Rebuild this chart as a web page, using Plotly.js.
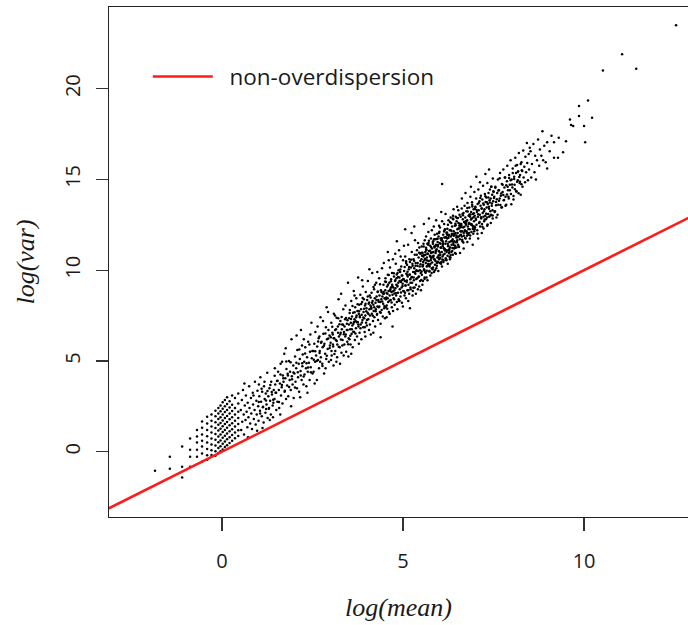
<!DOCTYPE html>
<html>
<head>
<meta charset="utf-8">
<script src="https://cdn.plot.ly/plotly-3.0.1.min.js"></script>
<style>html,body{margin:0;padding:0;background:#fff;}#chart{width:688px;height:625px;}</style>
</head>
<body>
<div id="chart"></div>
<script>
// ---- Data: log(mean) / log(var) per gene, grouped by log(mean) range ----
const meanA = [-1.85,-1.44,-1.44,-1.10,-1.10,-1.10,-0.88,-0.88,-0.88,-0.88,-0.69,-0.69,-0.69,-0.69,-0.69,-0.55,-0.55,-0.55,-0.55,-0.55,-0.55,-0.55,-0.41,-0.41,-0.41,-0.41,-0.41,-0.41,-0.41,-0.41,-0.29,-0.29,-0.29,-0.29,-0.29,-0.29,-0.29,-0.29];
const varA  = [-1.05,-0.28,-0.94,0.28,-0.83,-1.43,0.72,0.10,-0.28,-0.83,1.20,0.83,0.50,0.10,-0.28,1.66,1.32,0.94,0.60,0.28,-0.10,-0.55,1.93,1.55,1.20,0.85,0.50,0.15,-0.20,-0.45,2.05,1.70,1.38,1.05,0.72,0.40,0.08,-0.18];

const meanB = [-0.18,-0.18,-0.18,-0.18,-0.18,-0.18,-0.18,-0.18,-0.18,
  -0.10,-0.10,-0.10,-0.10,-0.10,-0.10,-0.10,-0.10,-0.10,
  -0.04,-0.04,-0.04,-0.04,-0.04,-0.04,-0.04,-0.04,-0.04,
  0.02,0.02,0.02,0.02,0.02,0.02,0.02,0.02,0.02,
  0.08,0.08,0.08,0.08,0.08,0.08,0.08,0.08,0.08,
  0.14,0.14,0.14,0.14,0.14,0.14,0.14,0.14,0.14,
  0.21,0.21,0.21,0.21,0.21,0.21,0.21,0.21,
  0.28,0.28,0.28,0.28,0.28,0.28,0.28,0.28,
  0.36,0.36,0.36,0.36,0.36,0.36,0.36,
  0.45,0.45,0.45,0.45,0.45,0.45,0.45];
const varB = [2.25,1.95,1.62,1.30,0.98,0.66,0.34,0.02,-0.22,
  2.40,2.10,1.80,1.48,1.16,0.84,0.52,0.20,-0.08,
  2.55,2.22,1.90,1.58,1.26,0.94,0.62,0.30,0.02,
  2.72,2.36,2.05,1.72,1.40,1.08,0.76,0.44,0.12,
  2.85,2.50,2.18,1.85,1.52,1.20,0.88,0.56,0.25,
  3.00,2.62,2.30,1.97,1.64,1.32,1.00,0.68,0.36,
  2.78,2.44,2.10,1.78,1.45,1.12,0.80,0.48,
  3.10,2.58,2.24,1.90,1.57,1.24,0.92,0.60,
  2.95,2.40,2.05,1.70,1.38,1.05,0.74,
  3.20,2.65,2.20,1.85,1.52,1.18,0.86];

const meanC = [0.52,0.53,0.55,0.56,0.58,0.60,0.61,0.63,0.65,0.66,0.68,0.70,0.71,0.73,0.75,0.76,0.78,0.80,0.81,0.83,0.85,0.86,0.88,0.90,0.91,0.93,0.95,0.96,0.98,1.00,1.01,1.03,1.05,1.06,1.08,1.10,1.11,1.13,1.15,1.16,1.18,1.20,1.21,1.23,1.25,1.26,1.28,1.30,1.31,1.33,1.35,1.36,1.38,1.40,1.41,1.43,1.45,1.46,1.48,1.50,0.62,0.72,0.87,0.97,1.02,1.12,1.22,1.32,1.42,1.47];
const varC  = [2.30,1.20,2.85,1.65,3.40,2.05,0.95,2.55,1.75,3.10,2.20,1.35,2.70,1.90,3.60,2.40,1.55,2.95,2.10,1.25,3.25,2.60,1.80,2.30,3.85,1.50,2.80,2.05,3.35,2.50,1.70,3.05,2.25,4.10,2.75,1.95,3.30,2.45,1.60,3.60,2.90,2.15,3.20,2.60,4.35,1.85,3.05,2.40,3.50,2.80,2.05,3.85,3.15,2.55,1.90,3.40,2.90,4.60,3.25,2.30,3.75,0.80,3.10,1.15,3.70,1.30,2.35,1.75,2.70,3.70];

const meanD = [1.52,1.53,1.55,1.57,1.58,1.60,1.62,1.63,1.65,1.67,1.68,1.70,1.72,1.73,1.75,1.77,1.78,1.80,1.82,1.83,1.85,1.87,1.88,1.90,1.92,1.93,1.95,1.97,1.98,2.00,2.02,2.03,2.05,2.07,2.08,2.10,2.12,2.13,2.15,2.17,2.18,2.20,2.22,2.23,2.25,2.27,2.28,2.30,2.32,2.33,2.35,2.37,2.38,2.40,2.42,2.43,2.45,2.47,2.48,2.50,1.61,1.76,1.91,2.06,2.16,2.26,2.36,2.44,1.66,2.21];
const varD  = [3.90,2.75,4.40,3.40,2.40,3.75,4.85,3.10,3.55,2.65,4.20,3.85,5.40,3.30,4.05,2.90,4.55,3.65,4.20,3.05,5.00,3.95,4.40,3.40,6.20,4.15,3.70,4.75,2.95,4.30,5.25,3.85,4.60,3.50,5.60,4.10,4.85,3.30,5.10,4.45,6.70,3.95,4.70,5.35,3.70,4.95,4.25,5.75,4.60,3.60,5.20,4.40,6.05,4.90,3.95,5.50,4.65,7.10,5.15,4.30,2.05,5.70,2.50,6.40,3.00,6.20,3.25,6.45,4.95,5.85];

const meanE = [2.52,2.53,2.55,2.57,2.58,2.60,2.62,2.63,2.65,2.67,2.68,2.70,2.72,2.73,2.75,2.77,2.78,2.80,2.82,2.83,2.85,2.87,2.88,2.90,2.92,2.93,2.95,2.97,2.98,3.00,3.02,3.03,3.05,3.07,3.08,3.10,3.12,3.13,3.15,3.17,3.18,3.20,3.22,3.23,3.25,3.27,3.28,3.30,3.32,3.33,3.35,3.37,3.38,3.40,3.42,3.43,3.45,3.47,3.48,3.50,2.56,2.64,2.71,2.79,2.86,2.94,3.01,3.09,3.16,3.21,3.26,3.31,3.36,3.41,3.46,3.49,2.69,2.89,3.06,3.29];
const varE  = [5.55,4.40,5.95,4.95,6.60,5.30,3.95,5.80,5.05,6.25,4.60,5.55,7.40,5.20,6.05,4.85,5.75,6.50,4.30,5.95,5.40,6.85,5.10,6.20,5.65,7.70,4.95,6.40,5.85,6.00,7.10,5.30,6.55,5.80,4.75,6.25,7.50,5.55,6.75,6.10,5.20,6.90,8.40,6.35,5.75,7.20,6.55,5.45,7.00,6.15,7.85,6.60,5.90,7.30,6.45,5.50,7.05,6.70,9.30,6.25,3.75,6.90,4.95,7.20,4.60,6.70,5.05,7.60,4.95,7.35,4.85,6.75,5.30,8.05,6.05,5.25,6.35,7.95,6.45,8.70];

const meanF = [3.51,3.52,3.53,3.54,3.55,3.56,3.57,3.58,3.59,3.60,3.61,3.62,3.63,3.64,3.65,3.66,3.67,3.68,3.69,3.70,3.71,3.72,3.73,3.74,3.75,3.76,3.77,3.78,3.79,3.80,3.81,3.82,3.83,3.84,3.85,3.86,3.87,3.88,3.89,3.90,3.91,3.92,3.93,3.94,3.95,3.96,3.97,3.98,3.99,4.00,4.01,4.02,4.03,4.04,4.05,4.06,4.07,4.08,4.09,4.10,4.11,4.12,4.13,4.14,4.15,4.16,4.17,4.18,4.19,4.20,4.21,4.22,4.23,4.24,4.25,4.26,4.27,4.28,4.29,4.30,4.31,4.32,4.33,4.34,4.35,4.36,4.37,4.38,4.39,4.40,4.41,4.42,4.43,4.44,4.45,4.46,4.47,4.48,4.49,4.50,3.57,3.66,3.78,3.87,3.96,4.07,4.18,4.29,4.38,4.47];
const varF  = [7.35,6.20,7.80,6.75,5.90,7.10,8.30,6.50,7.45,6.95,5.75,7.65,7.05,8.85,6.60,7.30,6.15,7.95,7.20,6.80,8.45,7.50,6.35,7.75,7.15,9.60,6.90,7.60,8.10,6.55,7.40,8.65,7.00,7.85,6.20,7.55,8.25,7.25,9.10,6.85,7.70,8.40,7.35,6.60,8.05,7.50,8.80,7.10,7.90,6.95,8.35,7.65,9.40,7.30,8.15,6.70,7.85,8.60,7.50,8.05,6.45,7.95,8.75,7.60,9.85,8.30,7.20,8.10,7.75,8.95,7.40,8.45,6.90,8.20,7.85,9.30,8.55,7.55,8.00,8.80,7.25,8.35,7.95,9.55,8.60,7.70,8.25,7.05,8.90,8.40,7.80,10.10,8.55,7.45,8.15,9.20,8.70,7.90,8.45,7.35,5.40,8.60,5.95,9.45,6.35,10.05,6.55,9.90,6.30,10.40];

const meanG = [4.51,4.52,4.53,4.54,4.55,4.56,4.57,4.58,4.59,4.60,4.61,4.62,4.63,4.64,4.65,4.66,4.67,4.68,4.69,4.70,4.71,4.72,4.73,4.74,4.75,4.76,4.77,4.78,4.79,4.80,4.81,4.82,4.83,4.84,4.85,4.86,4.87,4.88,4.89,4.90,4.91,4.92,4.93,4.94,4.95,4.96,4.97,4.98,4.99,5.00,5.01,5.02,5.03,5.04,5.05,5.06,5.07,5.08,5.09,5.10,5.11,5.12,5.13,5.14,5.15,5.16,5.17,5.18,5.19,5.20,5.21,5.22,5.23,5.24,5.25,5.26,5.27,5.28,5.29,5.30,5.31,5.32,5.33,5.34,5.35,5.36,5.37,5.38,5.39,5.40,5.41,5.42,5.43,5.44,5.45,5.46,5.47,5.48,5.49,5.50,
  4.515,4.545,4.575,4.605,4.635,4.665,4.695,4.725,4.755,4.785,4.815,4.845,4.875,4.905,4.935,4.965,4.995,5.025,5.055,5.085,5.115,5.145,5.175,5.205,5.235,5.265,5.295,5.325,5.355,5.385,5.415,5.445,5.475,5.495,4.58,4.83,5.06,5.31,4.71,5.19];
const varG  = [8.90,7.95,9.35,8.50,8.05,9.10,8.70,9.75,8.25,8.85,7.70,9.30,8.60,10.15,8.95,8.35,9.50,8.80,7.95,9.20,8.65,10.60,9.05,8.45,9.65,8.90,8.10,9.40,9.00,10.35,8.60,9.55,8.25,9.15,9.85,8.75,9.30,8.40,11.10,9.60,8.95,9.90,8.55,9.35,10.20,9.05,8.20,9.70,9.25,10.55,8.85,9.50,9.95,8.60,9.40,10.75,9.15,8.45,9.80,9.35,10.30,8.90,9.65,11.40,9.20,10.05,8.70,9.75,10.45,9.50,8.95,10.15,9.60,11.00,9.30,10.35,8.85,9.90,10.60,9.45,10.10,9.05,11.65,9.80,10.40,9.20,10.00,10.85,9.55,10.25,8.95,9.95,10.70,9.65,11.25,10.20,9.40,10.50,9.85,10.95,
  9.55,7.40,8.45,10.55,7.60,9.05,9.85,7.75,8.40,10.90,9.20,7.85,10.00,8.30,10.75,9.45,8.00,11.35,8.75,10.40,9.75,8.30,10.60,9.05,12.05,8.60,9.60,10.85,8.70,9.95,11.50,9.10,10.90,8.90,11.00,11.60,12.25,12.40,6.90,7.90];

const meanH = [5.51,5.52,5.53,5.54,5.55,5.56,5.57,5.58,5.59,5.60,5.61,5.62,5.63,5.64,5.65,5.66,5.67,5.68,5.69,5.70,5.71,5.72,5.73,5.74,5.75,5.76,5.77,5.78,5.79,5.80,5.81,5.82,5.83,5.84,5.85,5.86,5.87,5.88,5.89,5.90,5.91,5.92,5.93,5.94,5.95,5.96,5.97,5.98,5.99,6.00,6.01,6.02,6.03,6.04,6.05,6.06,6.07,6.08,6.09,6.10,6.11,6.12,6.13,6.14,6.15,6.16,6.17,6.18,6.19,6.20,6.21,6.22,6.23,6.24,6.25,6.26,6.27,6.28,6.29,6.30,6.31,6.32,6.33,6.34,6.35,6.36,6.37,6.38,6.39,6.40,6.41,6.42,6.43,6.44,6.45,6.46,6.47,6.48,6.49,6.50,
  5.515,5.535,5.555,5.575,5.595,5.615,5.635,5.655,5.675,5.695,5.715,5.735,5.755,5.775,5.795,5.815,5.835,5.855,5.875,5.895,5.915,5.935,5.955,5.975,5.995,6.015,6.035,6.055,6.075,6.095,6.115,6.135,6.155,6.175,6.195,6.215,6.235,6.255,6.275,6.295,6.315,6.335,6.355,6.375,6.395,6.415,6.435,6.455,6.475,6.495,6.08];
const varH  = [10.60,9.75,10.95,10.20,9.40,10.75,11.30,10.05,10.55,11.65,9.90,10.85,10.40,11.15,9.60,10.70,11.45,10.25,10.90,12.10,10.50,11.05,9.95,10.80,11.35,10.35,11.75,10.65,9.85,11.20,10.75,11.55,10.15,11.00,12.40,10.60,11.25,10.30,11.70,10.95,11.40,10.10,11.15,12.00,10.70,11.30,10.45,11.85,11.05,10.60,11.50,12.35,10.85,11.25,10.35,11.65,11.00,12.70,10.75,11.40,11.95,10.55,11.20,11.80,10.90,12.25,11.45,10.65,11.60,12.05,11.10,11.75,10.80,12.50,11.35,11.90,10.95,11.55,12.20,11.25,10.70,11.85,12.60,11.40,12.00,11.05,11.70,13.00,11.50,12.15,11.20,11.95,12.45,11.35,12.05,10.90,11.80,12.70,11.55,12.25,
  11.30,9.20,10.45,12.55,9.60,11.00,11.85,10.20,9.45,11.40,12.85,10.30,9.70,10.95,12.20,10.05,11.60,9.90,11.95,10.50,12.75,10.25,11.55,9.95,12.45,10.40,11.75,13.20,10.20,11.60,10.45,12.55,11.10,13.10,10.55,11.95,10.35,12.75,11.15,10.60,12.90,11.00,12.40,10.85,13.35,11.60,10.95,12.95,11.25,13.50,14.75];

const meanI = [6.51,6.52,6.53,6.54,6.55,6.56,6.57,6.58,6.59,6.60,6.61,6.62,6.63,6.64,6.65,6.66,6.67,6.68,6.69,6.70,6.71,6.72,6.73,6.74,6.75,6.76,6.77,6.78,6.79,6.80,6.81,6.82,6.83,6.84,6.85,6.86,6.87,6.88,6.89,6.90,6.91,6.92,6.93,6.94,6.95,6.96,6.97,6.98,6.99,7.00,7.01,7.02,7.03,7.04,7.05,7.06,7.07,7.08,7.09,7.10,7.11,7.12,7.13,7.14,7.15,7.16,7.17,7.18,7.19,7.20,7.21,7.22,7.23,7.24,7.25,7.26,7.27,7.28,7.29,7.30,7.31,7.32,7.33,7.34,7.35,7.36,7.37,7.38,7.39,7.40,7.41,7.42,7.43,7.44,7.45,7.46,7.47,7.48,7.49,7.50,
  6.525,6.575,6.625,6.675,6.725,6.775,6.825,6.875,6.925,6.975,7.025,7.075,7.125,7.175,7.225,7.275,7.325,7.375,7.425,7.475];
const varI  = [12.05,11.40,12.60,11.85,12.30,13.05,11.70,12.45,12.95,11.95,12.55,13.40,12.15,11.60,12.80,12.35,13.15,11.90,12.65,13.55,12.20,12.90,11.75,12.50,13.25,12.05,12.75,13.70,12.40,11.95,13.00,12.60,13.45,12.25,12.95,14.05,12.55,13.20,12.10,12.85,13.60,12.45,13.10,12.00,13.35,12.70,14.30,13.00,12.35,13.50,12.85,13.95,12.50,13.20,12.20,13.65,12.95,14.45,13.30,12.60,13.80,13.05,12.40,13.55,14.10,12.85,13.40,12.55,13.90,13.15,14.65,12.95,13.60,12.70,13.35,14.20,13.00,13.75,12.80,14.00,13.45,12.90,14.80,13.65,13.10,14.25,13.50,12.95,13.85,14.45,13.25,13.95,13.05,14.60,13.55,14.15,13.30,15.05,13.80,14.30,
  13.30,10.95,13.95,11.20,14.25,11.55,12.05,14.60,11.40,12.25,15.15,11.75,14.85,12.05,12.30,15.30,12.45,15.55,12.60,12.85];

const meanJ = [7.52,7.54,7.55,7.57,7.58,7.60,7.62,7.63,7.65,7.67,7.68,7.70,7.72,7.73,7.75,7.77,7.78,7.80,7.82,7.83,7.85,7.87,7.88,7.90,7.92,7.93,7.95,7.97,7.98,8.00,8.02,8.03,8.05,8.07,8.08,8.10,8.12,8.13,8.15,8.17,8.18,8.20,8.22,8.23,8.25,8.27,8.28,8.30,8.32,8.33,8.35,8.37,8.38,8.40,8.42,8.43,8.45,8.47,8.48,8.50];
const varJ  = [14.05,13.25,14.60,13.75,12.90,14.25,15.00,13.60,14.40,13.95,15.35,14.10,13.45,14.75,14.30,15.55,13.85,14.55,15.10,14.05,13.60,14.90,15.75,14.40,13.95,15.25,14.70,16.05,14.20,15.00,14.55,15.60,13.90,15.15,14.70,16.20,15.35,14.35,15.80,14.95,15.45,16.45,14.80,15.25,14.15,15.95,15.50,14.60,16.60,15.10,15.70,14.85,16.25,15.40,17.00,15.90,14.95,16.40,15.55,16.75];

const meanK = [8.52,8.54,8.56,8.60,8.63,8.65,8.67,8.70,8.73,8.76,8.78,8.82,8.85,8.87,8.90,8.94,8.98,8.98,9.05,9.10,9.17,9.17,9.28,9.30,9.42,9.50];
const varK  = [16.55,15.10,15.85,16.95,15.40,16.30,15.00,16.05,17.20,15.75,16.65,16.30,17.65,16.05,16.85,15.95,17.05,15.60,16.55,17.40,17.05,16.20,16.20,17.30,16.50,17.10];

const meanL = [9.61,9.64,9.70,9.86,9.86,10.00,10.03,10.11,10.22,10.52,11.05,11.44,12.54];
const varL  = [18.30,18.00,17.95,18.50,19.05,17.95,17.05,19.35,18.40,21.00,21.90,21.10,23.50];

// extra points for the dense core of the cloud
const meanM = [3.005,3.025,3.045,3.065,3.085,3.105,3.125,3.145,3.165,3.185,3.205,3.225,3.245,3.265,3.285,3.305,3.325,3.345,3.365,3.385,3.405,3.425,3.445,3.465,3.485,3.505,3.525,3.545,3.565,3.585,3.605,3.625,3.645,3.665,3.685,3.705,3.725,3.745,3.765,3.785,3.805,3.825,3.845,3.865,3.885,3.905,3.925,3.945,3.965,3.985,4.005,4.025,4.045,4.065,4.085,4.105,4.125,4.145,4.165,4.185,4.205,4.225,4.245,4.265,4.285,4.305,4.325,4.345,4.365,4.385,4.405,4.425,4.445,4.465,4.485,4.505,4.525,4.545,4.565,4.585,4.605,4.625,4.645,4.665,4.685,4.705,4.725,4.745,4.765,4.785,4.805,4.825,4.845,4.865,4.885,4.905,4.925,4.945,4.965,4.985];
const varM  = [6.31,5.54,6.88,5.91,6.25,5.38,6.71,6.15,7.38,5.91,6.55,5.78,7.02,6.45,6.18,7.42,5.85,6.99,6.47,6.90,6.34,7.37,6.71,7.24,5.92,7.01,7.64,6.38,7.31,6.74,8.03,6.61,7.14,7.68,6.51,7.40,7.13,8.12,7.00,7.73,7.47,6.80,8.14,7.12,8.46,7.39,7.88,6.86,8.15,7.73,7.26,8.55,7.58,8.22,7.00,8.49,7.87,8.20,7.49,9.07,7.96,9.19,7.73,8.36,7.59,8.83,8.26,8.00,9.23,7.66,8.80,8.28,8.72,8.80,8.03,9.37,8.40,8.74,7.87,9.20,9.74,8.32,8.86,9.39,8.22,9.11,8.84,9.83,8.71,9.44,8.73,9.76,9.10,9.63,8.31,9.40,10.03,8.77,9.70,9.13];

const meanN = [5.005,5.025,5.045,5.065,5.085,5.105,5.125,5.145,5.165,5.185,5.205,5.225,5.245,5.265,5.285,5.305,5.325,5.345,5.365,5.385,5.405,5.425,5.445,5.465,5.485,5.505,5.525,5.545,5.565,5.585,5.605,5.625,5.645,5.665,5.685,5.705,5.725,5.745,5.765,5.785,5.805,5.825,5.845,5.865,5.885,5.905,5.925,5.945,5.965,5.985,6.005,6.025,6.045,6.065,6.085,6.105,6.125,6.145,6.165,6.185,6.205,6.225,6.245,6.265,6.285,6.305,6.325,6.345,6.365,6.385,6.405,6.425,6.445,6.465,6.485,6.505,6.525,6.545,6.565,6.585,6.605,6.625,6.645,6.665,6.685,6.705,6.725,6.745,6.765,6.785,6.805,6.825,6.845,6.865,6.885,6.905,6.925,6.945,6.965,6.985];
const varN  = [9.51,8.84,10.18,9.16,10.49,9.43,9.91,8.90,10.18,9.76,9.30,10.58,9.62,10.25,9.03,10.52,9.90,10.24,9.52,11.10,10.39,9.62,10.96,9.99,10.32,9.46,10.79,10.23,11.46,9.99,10.63,9.86,11.10,10.53,10.26,11.50,9.93,11.07,10.55,10.98,10.42,11.45,10.79,11.32,10.00,11.09,11.72,10.46,11.39,10.82,12.11,10.69,11.23,11.76,10.59,11.48,11.21,12.20,11.08,11.81,11.00,12.28,11.32,11.95,10.73,12.22,11.60,11.94,11.22,12.80,11.89,11.22,12.56,11.54,12.87,11.81,12.29,11.28,12.56,12.14,12.13,11.86,13.10,11.53,12.66,12.15,12.58,12.67,11.90,13.23,12.27,12.60,11.74,13.07,12.50,13.74,12.27,12.91,12.14,13.37];

const meanO = [5.515,5.535,5.555,5.575,5.595,5.615,5.635,5.655,5.675,5.695,5.715,5.735,5.755,5.775,5.795,5.815,5.835,5.855,5.875,5.895,5.915,5.935,5.955,5.975,5.995,6.015,6.035,6.055,6.075,6.095,6.115,6.135,6.155,6.175,6.195,6.215,6.235,6.255,6.275,6.295,6.315,6.335,6.355,6.375,6.395,6.415,6.435,6.455,6.475,6.495,6.515,6.535,6.555,6.575,6.595,6.615,6.635,6.655,6.675,6.695,6.715,6.735,6.755,6.775,6.795,6.815,6.835,6.855,6.875,6.895,6.915,6.935,6.955,6.975,6.995,7.015,7.035,7.055,7.075,7.095,7.115,7.135,7.155,7.175,7.195,7.215,7.235,7.255,7.275,7.295,7.315,7.335,7.355,7.375,7.395,7.415,7.435,7.455,7.475,7.495];
const varO  = [9.93,10.96,10.30,10.83,9.52,10.60,11.23,9.97,10.90,10.34,11.62,10.20,10.74,11.27,10.11,10.99,10.72,11.71,10.59,11.33,11.06,10.39,11.73,10.71,12.05,10.98,11.46,10.45,11.73,11.32,10.85,12.13,11.17,11.80,10.59,12.07,11.45,11.79,11.07,12.66,10.84,12.17,11.61,12.84,11.38,12.01,11.24,12.48,11.91,11.65,12.88,11.31,12.45,11.93,12.37,12.45,11.68,13.02,12.05,12.39,11.77,12.70,12.14,13.42,12.01,12.54,13.07,11.91,12.79,12.53,13.51,12.39,13.13,12.41,13.45,12.78,13.31,12.00,13.08,13.72,12.65,13.98,12.92,13.40,12.39,13.67,13.25,12.79,14.07,13.11,13.74,12.52,14.01,13.39,13.73,13.01,14.59,13.68,13.01,14.35];

const meanP = [7.51,7.53,7.55,7.57,7.59,7.61,7.63,7.65,7.67,7.69,7.71,7.73,7.75,7.77,7.79,7.81,7.83,7.85,7.87,7.89,7.91,7.93,7.95,7.97,7.99,8.01,8.03,8.05,8.07,8.09,8.11,8.13,8.15,8.17,8.19,8.21,8.23,8.25,8.27,8.29];
const varP  = [13.97,13.21,14.54,13.58,13.91,13.05,14.39,13.82,15.06,13.59,14.23,13.47,14.70,14.14,13.87,15.11,13.55,14.68,14.17,14.60,14.04,15.08,14.41,14.95,13.63,14.72,15.36,14.09,15.03,14.46,15.75,14.34,14.87,15.41,14.24,15.13,14.87,15.85,14.74,15.47];

const meanQ = [1.015,1.055,1.095,1.135,1.175,1.215,1.255,1.295,1.335,1.375,1.415,1.455,1.495,1.535,1.575,1.615,1.655,1.695,1.735,1.775,1.815,1.855,1.895,1.935,1.975,2.015,2.055,2.095,2.135,2.175,2.215,2.255,2.295,2.335,2.375,2.415,2.455,2.495,2.535,2.575,2.615,2.655,2.695,2.735,2.775,2.815,2.855,2.895,2.935,2.975];
const varQ  = [2.73,2.10,3.47,2.48,3.85,2.82,3.34,2.36,3.67,3.29,2.86,4.18,3.25,3.91,2.73,4.25,3.67,4.04,3.35,4.97,4.29,3.56,4.93,3.99,4.36,3.53,4.90,4.37,5.63,4.20,4.87,4.14,5.41,4.87,4.64,5.91,4.38,5.55,5.06,5.53,5.00,6.07,5.44,6.00,4.72,5.84,6.51,5.28,6.24,5.71];

// reference line var = mean (non-overdispersion)
const refMean = [-4, 14];
const refVar  = [-4, 14];

const xTicks = [0, 5, 10];
const yTicks = [0, 5, 10, 15, 20];

const logMean = [].concat(meanA, meanB, meanC, meanD, meanE, meanF, meanG, meanH, meanI, meanJ, meanK, meanL, meanM, meanN, meanO, meanP, meanQ);
const logVar  = [].concat(varA, varB, varC, varD, varE, varF, varG, varH, varI, varJ, varK, varL, varM, varN, varO, varP, varQ);

const tickFont = {family: 'Open Sans, Liberation Sans, sans-serif', size: 20, color: '#1a1a1a'};
const titleFont = {family: 'Liberation Serif, DejaVu Serif, serif', size: 26, color: '#1a1a1a'};

const traces = [
  {
    type: 'scatter', mode: 'markers', x: logMean, y: logVar,
    marker: {color: '#000', size: 2.5, line: {width: 0}},
    showlegend: false, hoverinfo: 'skip'
  },
  {
    type: 'scatter', mode: 'lines', x: refMean, y: refVar,
    line: {color: '#ff1a1a', width: 2.6},
    name: '&nbsp;&nbsp;non-overdispersion', showlegend: true
  }
];

const layout = {
  width: 688, height: 625,
  margin: {l: 109, r: 0, t: 7, b: 108},
  paper_bgcolor: '#fff', plot_bgcolor: '#fff',
  xaxis: {
    range: [-3.12, 12.87], tickvals: xTicks, ticktext: xTicks.map(String),
    ticks: 'outside', ticklen: 13, tickwidth: 1.3, tickcolor: '#333',
    showline: true, linecolor: '#222', linewidth: 1.3, mirror: true,
    showgrid: false, zeroline: false, tickfont: tickFont,
    ticklabelstandoff: 13,
    title: {text: '<i>log(mean)</i>', font: titleFont, standoff: 24}
  },
  yaxis: {
    range: [-3.6, 24.5], tickvals: yTicks, ticktext: yTicks.map(String),
    ticks: 'outside', ticklen: 12, tickwidth: 1.3, tickcolor: '#333',
    showline: true, linecolor: '#222', linewidth: 1.3, mirror: false,
    showgrid: false, zeroline: false, tickfont: tickFont, tickangle: -90,
    ticklabelstandoff: 8,
    title: {text: '<i>log(var)</i>', font: titleFont, standoff: 16}
  },
  legend: {
    x: 0.067, y: 0.863, xanchor: 'left', yanchor: 'middle',
    bgcolor: 'rgba(0,0,0,0)', borderwidth: 0,
    font: {family: 'Open Sans, Liberation Sans, sans-serif', size: 22.5, color: '#1a1a1a'},
    itemwidth: 60
  },
  showlegend: true
};

Plotly.newPlot('chart', traces, layout, {staticPlot: true, displayModeBar: false});
</script>
</body>
</html>
